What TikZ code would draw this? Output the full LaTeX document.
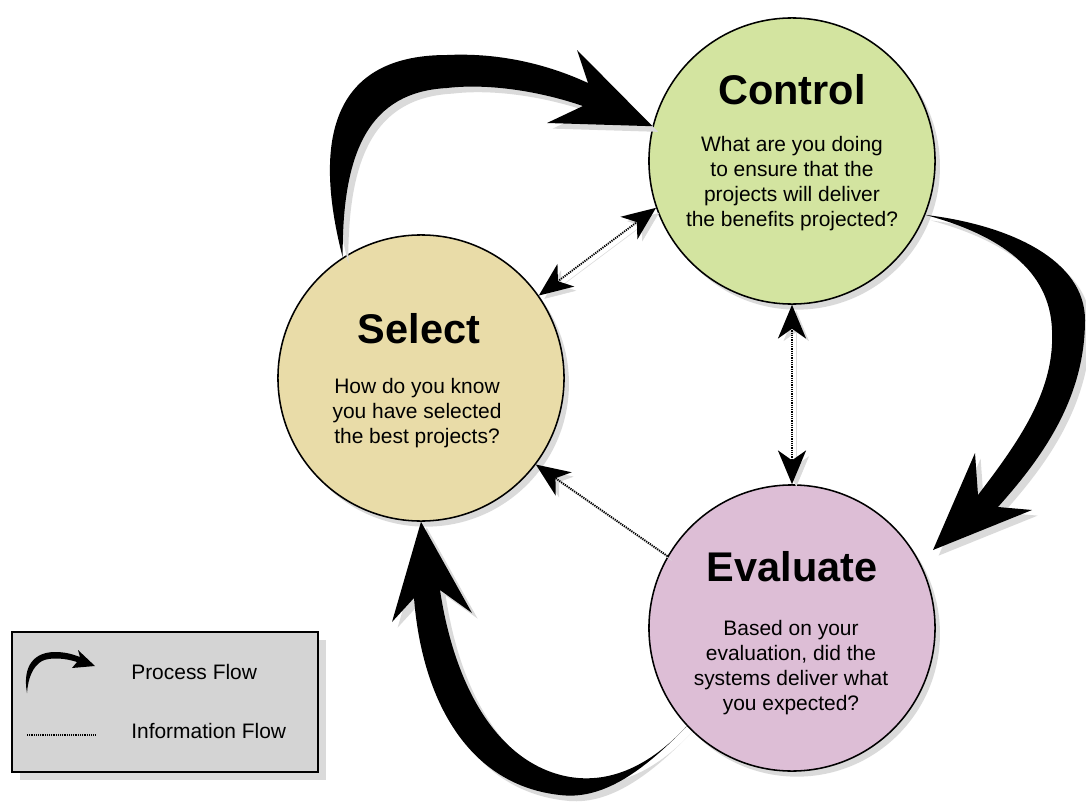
\documentclass[tikz,border=0pt]{standalone}
\usepackage{fontspec}
\setmainfont{Liberation Sans}
\usepackage{tikz}
\usetikzlibrary{arrows.meta}
\usetikzlibrary{shadows}
\definecolor{ctlgreen}{RGB}{211,228,160}
\definecolor{seltan}{RGB}{233,220,168}
\definecolor{evapink}{RGB}{221,190,214}
\definecolor{shadowgray}{RGB}{218,218,218}
\definecolor{legendgray}{RGB}{212,212,212}
\tikzset{stage/.style={shape=circle, draw=black, line width=1.1pt,
    minimum size=7.15cm, inner sep=0pt,
    general shadow={fill=shadowgray, shadow xshift=3.5pt, shadow yshift=-4pt}}}
\tikzset{stagetitle/.style={font=\fontsize{29.5}{34}\selectfont\bfseries, inner sep=0pt}}
\tikzset{question/.style={font=\fontsize{14.9}{17.8}\selectfont, align=center, inner sep=0pt}}
\tikzset{process/.style={fill=black,
    general shadow={fill=shadowgray, shadow xshift=4pt, shadow yshift=-4pt}}}
\tikzset{info/.style={line width=1.3pt, dash pattern=on 0.9pt off 0.7pt,
    preaction={draw=shadowgray, transform canvas={xshift=3pt, yshift=-3pt}}}}
\tikzset{legendbox/.style={shape=rectangle, draw=black, line width=1.1pt, fill=legendgray,
    minimum width=7.65cm, minimum height=3.5cm, inner sep=0pt,
    general shadow={fill=shadowgray, shadow xshift=5.5pt, shadow yshift=-5.5pt}}}
\tikzset{legendtext/.style={anchor=west, font=\fontsize{14.9}{17.8}\selectfont, inner sep=0pt}}

\begin{document}
\begin{tikzpicture}[x=0.025cm, y=-0.025cm, >={Stealth[length=24pt, width=20pt, inset=7pt]}]
    \useasboundingbox (0,0) rectangle (1086,802);

    % the three stages
    \node[stage, fill=ctlgreen] (ctl) at (792,161) {};
    \node[stage, fill=seltan] (sel) at (421,378) {};
    \node[stage, fill=evapink] (eva) at (792,628) {};

    \node[stagetitle] (ctlT) at (792,90) {Control};
    \node[question] (ctlQ) at (792,184) {What are you doing\\to ensure that the\\projects will deliver\\the benefits projected?};
    \node[stagetitle] (selT) at (419,329) {Select};
    \node[question] (selQ) at (417,413) {How do you know\\you have selected\\the best projects?};
    \node[stagetitle] (evaT) at (792,567) {Evaluate};
    \node[question] (evaQ) at (791,668) {Based on your\\evaluation, did the\\systems deliver what\\you expected?};

    % process flow
    \coordinate (p1a) at (sel.123);
    \coordinate (p1b) at (ctl.166);
    \fill[process] (p1a) .. controls (315,150) and (325,55) .. (447,55)
        .. controls (510,52) and (560,70) .. (588,83) -- (577,50) -- (p1b) -- (547,123) -- (583,106)
        .. controls (530,88) and (480,84) .. (447,88)
        .. controls (370,92) and (342,150) .. (p1a) -- cycle;

    \coordinate (p2a) at (ctl.-22);
    \coordinate (p2b) at (933,550);
    \fill[process] (p2a) .. controls (1010,225) and (1085,260) .. (1085,320)
        .. controls (1085,400) and (1040,460) .. (998,507) -- (1032,510) -- (p2b) -- (975,453) -- (978,495)
        .. controls (1020,440) and (1055,390) .. (1052,330)
        .. controls (1050,270) and (1000,235) .. (p2a) -- cycle;

    \coordinate (p3a) at (eva.-137);
    \coordinate (p3b) at (sel.south);
    \fill[process] (p3a) .. controls (640,775) and (600,800) .. (560,795)
        .. controls (468,785) and (422,700) .. (414,598) -- (392,622) -- (p3b) -- (472,613) -- (440,590)
        .. controls (455,690) and (500,765) .. (570,777)
        .. controls (620,785) and (660,755) .. (p3a) -- cycle;

    % information flow
    \draw[info, <->] (sel.35) -- (ctl.199);
    \draw[info, <->] (ctl.south) -- (eva.north);
    \draw[info, ->] (eva.150) -- (sel.-37);

    % legend
    \node[legendbox] (leg) at (165,702) {};
    \coordinate (lpa) at (27,693);
    \coordinate (lpb) at (95,666);
    \fill (lpa) .. controls (22,665) and (35,652) .. (55,652)
        .. controls (65,652) and (72,654) .. (80,657) -- (78,650) -- (lpb) -- (72,668) -- (77,662)
        .. controls (65,658) and (50,657) .. (42,661)
        .. controls (33,666) and (28,678) .. (lpa) -- cycle;
    \node[legendtext] (lgp) at (131,672) {Process Flow};
    \coordinate (lia) at (27,735);
    \coordinate (lib) at (95,735);
    \draw[line width=0.9pt, dash pattern=on 0.7pt off 0.6pt] (lia) -- (lib);
    \node[legendtext] (lgi) at (131,731) {Information Flow};

\end{tikzpicture}
\end{document}
